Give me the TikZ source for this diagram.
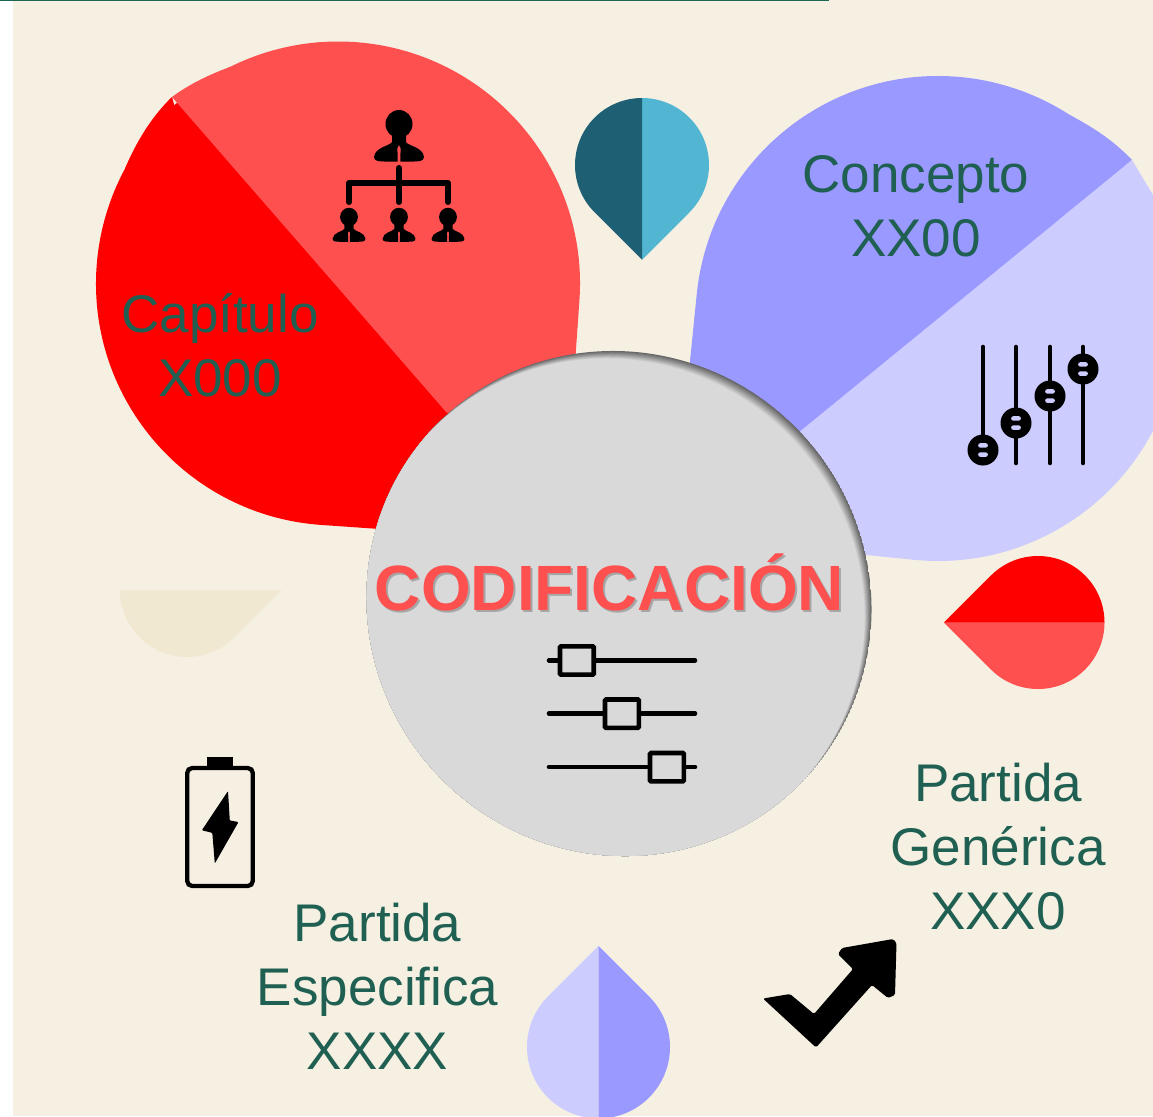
\documentclass[tikz,border=0pt]{standalone}
\usepackage{fontspec}
\setmainfont{Liberation Sans}
\definecolor{cream}{HTML}{F6F0E3}
\definecolor{beige}{HTML}{F1E8D2}
\definecolor{barteal}{HTML}{1F6652}
\definecolor{labelteal}{HTML}{1F6052}
\definecolor{redA}{HTML}{FF0000}
\definecolor{redB}{HTML}{FF5050}
\definecolor{blueA}{HTML}{9999FF}
\definecolor{blueB}{HTML}{CCCCFF}
\definecolor{tealA}{HTML}{1F5F73}
\definecolor{tealB}{HTML}{52B5D2}
\definecolor{discgrey}{HTML}{D9D9D9}
\definecolor{discdark}{HTML}{666666}
\newcommand\dropicon[6]{%
  \begin{scope}[shift={(#1,-#2)},rotate=#4]
    \fill[#5] ({1.41421*#3},0) -- (45:#3) arc[start angle=45,end angle=180,radius=#3] -- cycle;
    \fill[#6] ({1.41421*#3},0) -- (-45:#3) arc[start angle=-45,end angle=-180,radius=#3] -- cycle;
  \end{scope}}
\newcommand\personicon[3]{%
  \begin{scope}[shift={(#1,-#2)},scale=#3]
    \fill[black] (0,0) ellipse[x radius=13.5,y radius=14];
    \fill[black] (-7,-8) -- (-7,-18) .. controls (-9,-22) and (-24,-23) .. (-25,-33)
      .. controls (-25,-37) and (-20,-37.5) .. (-15,-37.5) -- (-1.3,-37.5) -- (-1.6,-24) -- (0,-21) -- (1.6,-24) -- (1.3,-37.5)
      -- (15,-37.5) .. controls (20,-37.5) and (25,-37) .. (25,-33)
      .. controls (24,-23) and (9,-22) .. (7,-18) -- (7,-8) -- cycle;
  \end{scope}}
\newcommand\knob[2]{%
  \fill[black] (#1,-#2) circle[radius=15.5];
  \fill[blueB,rounded corners=2] ({#1-4.8},{-#2+6.8}) rectangle ({#1+4.8},{-#2+2.4});
  \fill[blueB,rounded corners=2] ({#1-4.8},{-#2-2.4}) rectangle ({#1+4.8},{-#2-6.8});}
\tikzset{
  x=1pt,y=1pt,
  label text/.style={text=labelteal,font=\fontsize{53}{64}\selectfont,align=center,inner sep=0pt},
  icon line/.style={draw=black,line width=4.6pt,line cap=round},
  org line/.style={draw=black,line width=6pt,line cap=round,line join=round},
  slider box/.style={draw=black,line width=4.6pt,fill=discgrey,rounded corners=1pt},
  title text/.style={font=\fontsize{64}{64}\selectfont\bfseries,inner sep=0pt}
}
\begin{document}
\begin{tikzpicture}
\useasboundingbox (0,0) rectangle (1153,-1116);
\begin{scope}
\clip (0,0) rectangle (1153,-1116);
\fill[white] (0,0) rectangle (1153,-1116);
\fill[cream] (13,0) rectangle (1153,-1116);
\fill[barteal] (0,0) rectangle (829,-1.5);
% petals
\dropicon{338}{283.5}{242}{-49}{redB}{redA}
\fill[redB] (172,-97) .. controls (188,-85) and (208,-75) .. (230,-67) -- (500,-400) -- (447,-413) -- cycle;
\fill[redA] (172,-97) .. controls (150,-118) and (135,-145) .. (125,-168.5) -- (200,-200) -- cycle;
\dropicon{938}{318.5}{242.5}{219.25}{blueB}{blueA}
\fill[blueA] (1132,-160) .. controls (1112,-139) and (1092,-127) .. (1070,-115) -- (1000,-180) -- (1060,-218.8) -- cycle;
\fill[blueB] (1132,-160) -- (1153,-195) -- (1153,-260) -- (1060,-218.8) -- cycle;
\dropicon{642}{165}{67}{-90}{tealB}{tealA}
\dropicon{1038}{622.5}{66.5}{180}{redB}{redA}
\dropicon{598.5}{1047}{71.5}{90}{blueB}{blueA}
\begin{scope}[shift={(187,-590)}]
  \fill[beige] ({1.41421*67},0) -- (-45:67) arc[start angle=-45,end angle=-180,radius=67] -- cycle;
\end{scope}
% central disc with inner shadow
\begin{scope}
  \clip[shift={(619,-603.5)},rotate=-45] (0,0) ellipse[x radius=255.5,y radius=249.5];
  \fill[discdark,shift={(619,-603.5)},rotate=-45] (0,0) ellipse[x radius=255.5,y radius=249.5];
  \foreach \k in {1,...,10}{
    \pgfmathsetmacro\p{100-\k*10}
    \fill[discdark!\p!discgrey,shift={({619-\k*0.7},{-603.5-\k*0.75})},rotate=-45] (0,0) ellipse[x radius=255.5,y radius=249.5];
  }
\end{scope}
% title
\node[title text,text=black!35] (titleshade) at (611.5,-584) {CODIFICACIÓN};
\node[title text,text=redB] (title) at (609.5,-582) {CODIFICACIÓN};
% labels
\node[label text] (capitulo) at (220,-345) {Capítulo\\X000};
\node[label text] (concepto) at (916,-206) {Concepto\\XX00};
\node[label text] (generica) at (998,-846.5) {Partida\\Genérica\\XXX0};
\node[label text] (especifica) at (377.5,-986) {Partida\\Especifica\\XXXX};
% org chart icon
\personicon{399}{124}{1}
\personicon{349}{217}{0.66}
\personicon{399}{217}{0.66}
\personicon{448}{217}{0.66}
\draw[org line] (349,-202) -- (349,-183) -- (448,-183) -- (448,-202);
\draw[org line] (399,-168) -- (399,-202);
% mixer icon
\draw[icon line] (983,-347) -- (983,-463);
\draw[icon line] (1016,-347) -- (1016,-463);
\draw[icon line] (1050,-347) -- (1050,-463);
\draw[icon line] (1083,-347) -- (1083,-463);
\knob{983}{450}
\knob{1016}{423}
\knob{1050}{396}
\knob{1083}{369}
% centre sliders
\draw[icon line] (549,-660.3) -- (695,-660.3);
\draw[icon line] (549,-713.5) -- (695,-713.5);
\draw[icon line] (549,-767) -- (695,-767);
\draw[slider box] (560,-646.3) rectangle (593.7,-674.6);
\draw[slider box] (605,-699.5) rectangle (638.8,-727.8);
\draw[slider box] (650,-753) rectangle (683.8,-781.3);
% battery
\draw[draw=black,line width=4.3pt,rounded corners=5pt] (187.2,-768) rectangle (252.8,-886);
\fill[black] (207,-757) rectangle (233,-768);
\fill[black,rounded corners=1pt] (228,-791) -- (229.8,-820.5) -- (238.5,-822) -- (214.8,-863.5) -- (212.3,-832.8) -- (201.8,-830.3) -- cycle;
% arrow
\fill[black,rounded corners=1.5pt] (763,-998.5) -- (790,-994) -- (814,-1014) -- (853,-969) -- (838,-954) -- (842,-948) -- (893,-939) -- (896.5,-943) -- (895,-995) -- (888,-998) -- (872,-985) -- (816,-1047.5) -- cycle;
\end{scope}
\end{tikzpicture}
\end{document}
